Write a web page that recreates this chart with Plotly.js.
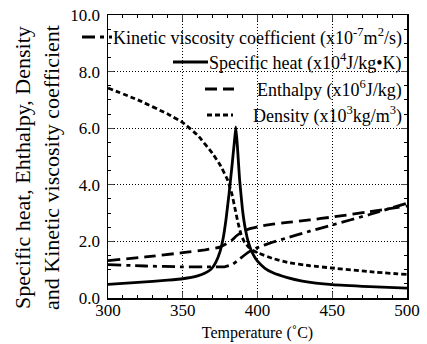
<!DOCTYPE html>
<html>
<head>
<meta charset="utf-8">
<script src="https://cdn.plot.ly/plotly-3.0.1.min.js"></script>
<style>html,body{margin:0;padding:0;background:#fff;}#chart{width:427px;height:344px;}</style>
</head>
<body>
<div id="chart"></div>
<script>
// Specific heat (x10^4 J/kg K)
const cpT = [300,320,340,350,360,365,369,372,375,377,379,381,383,384.5,385.5,386.5,388,390,392,394,397,400,405,410,420,430,450,475,500];
const cpV = [0.48,0.55,0.63,0.68,0.78,0.88,1.02,1.25,1.65,2.1,2.8,3.7,4.7,5.5,6.05,5.4,4.2,3.1,2.4,1.95,1.55,1.3,1.05,0.9,0.72,0.6,0.47,0.4,0.35];
// Density (x10^3 kg/m^3)
const rhoT = [300,320,340,350,360,370,375,380,383,385,387,389,391,394,397,400,410,420,435,450,475,500];
const rhoV = [7.42,7.0,6.5,6.2,5.75,5.1,4.7,4.17,3.65,3.15,2.65,2.25,2.0,1.8,1.68,1.6,1.4,1.26,1.14,1.06,0.93,0.83];
// Enthalpy (x10^6 J/kg)
const hT = [300,325,350,365,375,382,386,390,395,405,420,435,450,475,500];
const hV = [1.32,1.45,1.6,1.7,1.8,2.0,2.2,2.35,2.45,2.57,2.67,2.76,2.86,3.05,3.25];
// Kinetic viscosity coefficient (x10^-7 m^2/s)
const nuT = [300,325,350,370,378,383,388,394,400,410,420,435,450,475,500];
const nuV = [1.18,1.13,1.1,1.1,1.1,1.18,1.38,1.62,1.78,1.97,2.13,2.36,2.58,2.95,3.35];

const legendNames = [
  'Kinetic viscosity coefficient (x10<sup>-7</sup>m<sup>2</sup>/s)',
  'Specific heat (x10<sup>4</sup>J/kg\u2022K)',
  'Enthalpy (x10<sup>6</sup>J/kg)',
  'Density (x10<sup>3</sup>kg/m<sup>3</sup>)'
];
const xTicks = [300,350,400,450,500];
const yTicks = [0,2,4,6,8,10];
const yTickText = ['0.0','2.0','4.0','6.0','8.0','10.0'];

const F = 'Liberation Serif';
const dashNu = '13px,5px,4px,5px';
const dashH = '12px,6px';
const dashRho = '5px,3px';

function tr(x, y, dash, name) {
  return {x: x, y: y, type: 'scatter', mode: 'lines', name: name,
    line: {color: '#000', width: 2.8, dash: dash, shape: 'spline', smoothing: 0.3},
    showlegend: false, hoverinfo: 'skip'};
}
const data = [
  tr(nuT, nuV, dashNu, legendNames[0]),
  tr(cpT, cpV, 'solid', legendNames[1]),
  tr(hT, hV, dashH, legendNames[2]),
  tr(rhoT, rhoV, dashRho, legendNames[3])
];

const px = x => (x - 108) / 299;
const py = y => (298 - y) / 283;
const legendRows = [37, 62, 89, 115];
const sampleX = [[82,112],[173,208],[205,234],[207,233]];
const sampleDash = [dashNu, 'solid', dashH, dashRho];

const shapes = [];
const annotations = [];
for (let i = 0; i < 4; i++) {
  shapes.push({type: 'line', xref: 'paper', yref: 'paper',
    x0: px(sampleX[i][0]), x1: px(sampleX[i][1]), y0: py(legendRows[i]), y1: py(legendRows[i]),
    line: {color: '#000', width: 2.8, dash: sampleDash[i]}});
  annotations.push({xref: 'paper', yref: 'paper', x: px(404), y: py(legendRows[i]),
    xanchor: 'right', yanchor: 'middle', showarrow: false, text: legendNames[i],
    font: {family: F, size: 18, color: '#000'}});
}
annotations.push({xref: 'paper', yref: 'paper', x: px(37), y: py(168), xanchor: 'center', yanchor: 'middle',
  textangle: -90, showarrow: false,
  text: 'Specific heat, Ehthalpy, Density<br>and Kinetic viscosity coefficient',
  font: {family: F, size: 22, color: '#000'}});

const layout = {
  width: 427, height: 344,
  margin: {l: 108, r: 20, t: 15, b: 46},
  paper_bgcolor: '#fff', plot_bgcolor: '#fff',
  font: {family: F, size: 17, color: '#000'},
  xaxis: {range: [300, 500], tickvals: xTicks, ticks: 'inside', ticklen: 6, tickwidth: 1,
    mirror: 'ticks', showline: true, linecolor: '#000', linewidth: 1.5,
    showgrid: true, gridcolor: '#000', griddash: '1px,2px', gridwidth: 1, zeroline: false,
    minor: {dtick: 10, ticks: 'inside', ticklen: 3, tickcolor: '#000', showgrid: false},
    tickfont: {family: F, size: 17}, ticklabelstandoff: -4,
    title: {text: 'Temperature (\u02daC)', font: {family: F, size: 16}, standoff: 8}},
  yaxis: {range: [0, 10], tickvals: yTicks, ticktext: yTickText, ticks: 'inside', ticklen: 6, tickwidth: 1,
    mirror: 'ticks', showline: true, linecolor: '#000', linewidth: 1.5,
    showgrid: true, gridcolor: '#000', griddash: '1px,2px', gridwidth: 1, zeroline: false,
    minor: {dtick: 0.5, ticks: 'inside', ticklen: 3, tickcolor: '#000', showgrid: false},
    tickfont: {family: F, size: 17}, ticklabelstandoff: 3},
  shapes: shapes,
  annotations: annotations,
  showlegend: false
};
Plotly.newPlot('chart', data, layout, {staticPlot: true, displayModeBar: false});
</script>
</body>
</html>
